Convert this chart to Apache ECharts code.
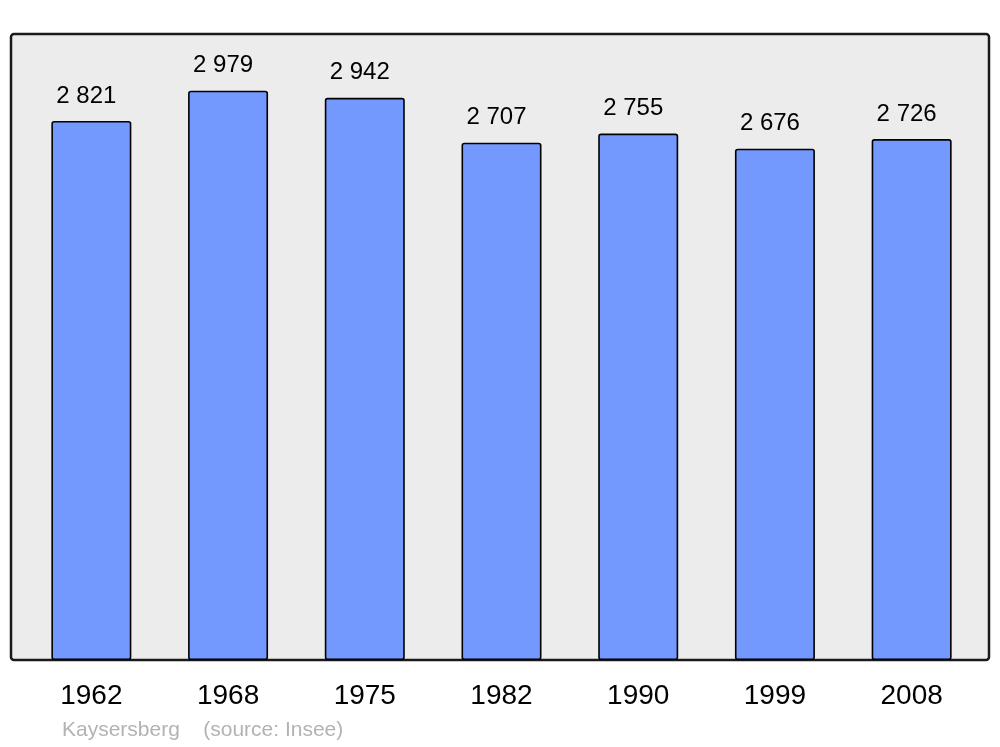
<!DOCTYPE html>
<html>
<head>
<meta charset="utf-8">
<script src="https://cdn.jsdelivr.net/npm/echarts@6/dist/echarts.min.js"></script>
<style>
html,body{margin:0;padding:0;background:#fff;}
#chart{width:1000px;height:747px;}
</style>
</head>
<body>
<div id="chart"></div>
<script>
const years = ['1962','1968','1975','1982','1990','1999','2008'];
const population = [2821, 2979, 2942, 2707, 2755, 2676, 2726];
const footerText = 'Kaysersberg    (source: Insee)';

const fmt = v => String(v).replace(/\B(?=(\d{3})+(?!\d))/g, ' ');

const chart = echarts.init(document.getElementById('chart'), null, {renderer: 'canvas'});
chart.setOption({
  animation: false,
  backgroundColor: '#ffffff',
  textStyle: {fontFamily: '"Liberation Sans", Arial, sans-serif'},
  title: {
    text: footerText,
    left: 62,
    top: 720,
    padding: 0,
    textStyle: {fontSize: 21, fontWeight: 'normal', color: '#b3b3b3', fontFamily: '"Liberation Sans", Arial, sans-serif'}
  },
  graphic: [{
    type: 'rect',
    z: -10,
    shape: {x: 11, y: 34, width: 978, height: 626, r: 3},
    style: {fill: '#ececec', stroke: '#1a1a1a', lineWidth: 2.5}
  }],
  grid: {left: 23, width: 957, top: 34, bottom: 87, containLabel: false},
  xAxis: {
    type: 'category',
    data: years,
    axisLine: {show: false},
    axisTick: {show: false},
    axisLabel: {fontSize: 28, color: '#000', margin: 22, fontFamily: '"Liberation Sans", Arial, sans-serif'}
  },
  yAxis: {
    type: 'value',
    min: 0,
    max: 3276,
    show: false,
    splitLine: {show: false}
  },
  series: [{
    type: 'bar',
    data: population,
    barWidth: 80,
    z: 5,
    itemStyle: {color: '#7399ff', borderColor: '#000', borderWidth: 1.6, borderRadius: 2},
    label: {
      show: true,
      position: 'top',
      distance: 13,
      offset: [-5, 0],
      fontSize: 24,
      color: '#000',
      fontFamily: '"Liberation Sans", Arial, sans-serif',
      formatter: p => fmt(p.value)
    }
  }]
});
</script>
</body>
</html>
